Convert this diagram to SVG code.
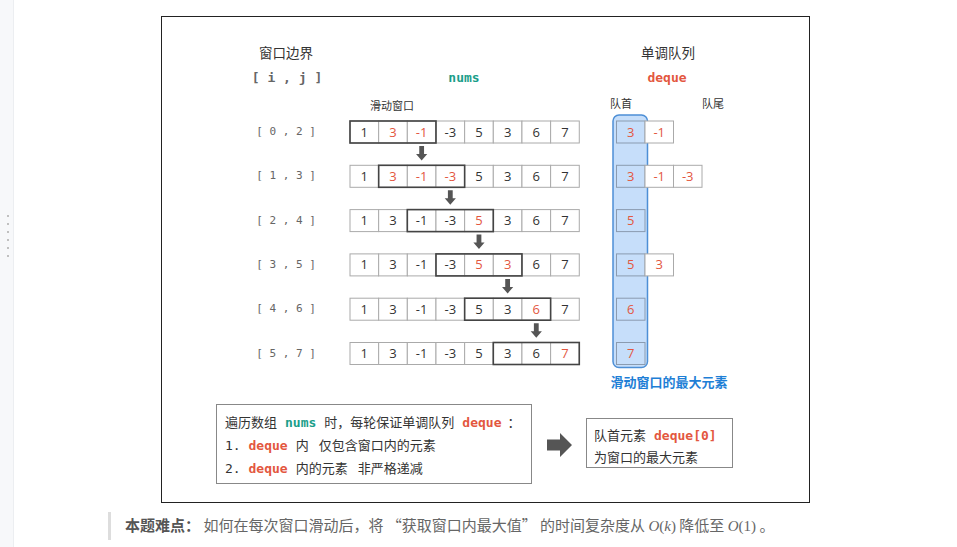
<svg xmlns="http://www.w3.org/2000/svg" width="957" height="547" viewBox="0 0 957 547">
<style>
.cjk{font-family:"Noto Sans CJK SC","Noto Sans",sans-serif;fill:#333}
.mono{font-family:"DejaVu Sans Mono","Liberation Mono",monospace}
.lbl{font-family:"DejaVu Sans Mono","Liberation Mono",monospace;font-size:11px;fill:#666;text-anchor:middle}
.cell{fill:#fff;stroke:#aaa;stroke-width:1}
.dcell{fill:#fff;stroke:#aaa;stroke-width:1}
.dfirst{fill:none;stroke:#8a9bb0;stroke-width:1}
.win{fill:none;stroke:#444;stroke-width:1.6}
.n{font-family:"Open Sans","Liberation Sans",sans-serif;font-size:13px;fill:#333;text-anchor:middle}
.r{fill:#e3573f}
.teal{fill:#1a9e8a}
.red{fill:#e3573f}
.box{fill:#fff;stroke:#888;stroke-width:1}
.arr{fill:#555}
.bt{font-size:13px}
</style>
<defs>
<path id="down" d="M-2.4,0 H2.4 V8 H5.6 L0,14.5 L-5.6,8 H-2.4 Z"/>
</defs>
<rect width="957" height="547" fill="#fff"/>
<g id="sidebar">
<rect x="0" y="0" width="13" height="547" fill="#f7f8fa"/>
<line x1="13.5" y1="0" x2="13.5" y2="547" stroke="#eceef1"/>
<rect x="7" y="215" width="2" height="2" fill="#c0c0c0"/>
<rect x="7" y="223" width="2" height="2" fill="#c0c0c0"/>
<rect x="7" y="231" width="2" height="2" fill="#c0c0c0"/>
<rect x="7" y="239" width="2" height="2" fill="#c0c0c0"/>
<rect x="7" y="247" width="2" height="2" fill="#c0c0c0"/>
<rect x="7" y="255" width="2" height="2" fill="#c0c0c0"/>
</g>
<rect id="frame" x="161.5" y="16.5" width="648" height="486" fill="#fff" stroke="#222" stroke-width="1"/>
<g id="headers">
<text class="cjk" x="286" y="58" font-size="13.5" text-anchor="middle">窗口边界</text>
<text class="mono" x="287" y="82" font-size="13" font-weight="bold" fill="#666" text-anchor="middle">[ i , j ]</text>
<text class="mono teal" x="464" y="82" font-size="13" font-weight="bold" text-anchor="middle">nums</text>
<text class="cjk" x="668" y="58" font-size="13.5" text-anchor="middle">单调队列</text>
<text class="mono red" x="667" y="82" font-size="13" font-weight="bold" text-anchor="middle">deque</text>
<text class="cjk" x="392" y="110" font-size="11" text-anchor="middle">滑动窗口</text>
<text class="cjk" x="621" y="108" font-size="11" text-anchor="middle">队首</text>
<text class="cjk" x="713" y="108" font-size="11" text-anchor="middle">队尾</text>
</g>
<g id="labels">
<text class="lbl" x="286" y="135">[ 0 , 2 ]</text>
<text class="lbl" x="286" y="179.3">[ 1 , 3 ]</text>
<text class="lbl" x="286" y="223.6">[ 2 , 4 ]</text>
<text class="lbl" x="286" y="267.9">[ 3 , 5 ]</text>
<text class="lbl" x="286" y="312.2">[ 4 , 6 ]</text>
<text class="lbl" x="286" y="356.5">[ 5 , 7 ]</text>
</g>
<g id="row0" transform="translate(0,121)">
<rect class="cell" x="350" y="0" width="28.66" height="22"/><rect class="cell" x="378.66" y="0" width="28.66" height="22"/><rect class="cell" x="407.32" y="0" width="28.66" height="22"/><rect class="cell" x="435.98" y="0" width="28.66" height="22"/><rect class="cell" x="464.64" y="0" width="28.66" height="22"/><rect class="cell" x="493.3" y="0" width="28.66" height="22"/><rect class="cell" x="521.96" y="0" width="28.66" height="22"/><rect class="cell" x="550.62" y="0" width="28.66" height="22"/>
<rect class="win" x="350" y="0" width="85.98" height="22"/>
<text class="n" x="364.33" y="15.5">1</text><text class="n r" x="392.99" y="15.5">3</text><text class="n r" x="421.65" y="15.5">-1</text><text class="n" x="450.31" y="15.5">-3</text><text class="n" x="478.97" y="15.5">5</text><text class="n" x="507.63" y="15.5">3</text><text class="n" x="536.29" y="15.5">6</text><text class="n" x="564.95" y="15.5">7</text>
</g>
<g id="row1" transform="translate(0,165.3)">
<rect class="cell" x="350" y="0" width="28.66" height="22"/><rect class="cell" x="378.66" y="0" width="28.66" height="22"/><rect class="cell" x="407.32" y="0" width="28.66" height="22"/><rect class="cell" x="435.98" y="0" width="28.66" height="22"/><rect class="cell" x="464.64" y="0" width="28.66" height="22"/><rect class="cell" x="493.3" y="0" width="28.66" height="22"/><rect class="cell" x="521.96" y="0" width="28.66" height="22"/><rect class="cell" x="550.62" y="0" width="28.66" height="22"/>
<rect class="win" x="378.66" y="0" width="85.98" height="22"/>
<text class="n" x="364.33" y="15.5">1</text><text class="n r" x="392.99" y="15.5">3</text><text class="n r" x="421.65" y="15.5">-1</text><text class="n r" x="450.31" y="15.5">-3</text><text class="n" x="478.97" y="15.5">5</text><text class="n" x="507.63" y="15.5">3</text><text class="n" x="536.29" y="15.5">6</text><text class="n" x="564.95" y="15.5">7</text>
</g>
<g id="row2" transform="translate(0,209.6)">
<rect class="cell" x="350" y="0" width="28.66" height="22"/><rect class="cell" x="378.66" y="0" width="28.66" height="22"/><rect class="cell" x="407.32" y="0" width="28.66" height="22"/><rect class="cell" x="435.98" y="0" width="28.66" height="22"/><rect class="cell" x="464.64" y="0" width="28.66" height="22"/><rect class="cell" x="493.3" y="0" width="28.66" height="22"/><rect class="cell" x="521.96" y="0" width="28.66" height="22"/><rect class="cell" x="550.62" y="0" width="28.66" height="22"/>
<rect class="win" x="407.32" y="0" width="85.98" height="22"/>
<text class="n" x="364.33" y="15.5">1</text><text class="n" x="392.99" y="15.5">3</text><text class="n" x="421.65" y="15.5">-1</text><text class="n" x="450.31" y="15.5">-3</text><text class="n r" x="478.97" y="15.5">5</text><text class="n" x="507.63" y="15.5">3</text><text class="n" x="536.29" y="15.5">6</text><text class="n" x="564.95" y="15.5">7</text>
</g>
<g id="row3" transform="translate(0,253.9)">
<rect class="cell" x="350" y="0" width="28.66" height="22"/><rect class="cell" x="378.66" y="0" width="28.66" height="22"/><rect class="cell" x="407.32" y="0" width="28.66" height="22"/><rect class="cell" x="435.98" y="0" width="28.66" height="22"/><rect class="cell" x="464.64" y="0" width="28.66" height="22"/><rect class="cell" x="493.3" y="0" width="28.66" height="22"/><rect class="cell" x="521.96" y="0" width="28.66" height="22"/><rect class="cell" x="550.62" y="0" width="28.66" height="22"/>
<rect class="win" x="435.98" y="0" width="85.98" height="22"/>
<text class="n" x="364.33" y="15.5">1</text><text class="n" x="392.99" y="15.5">3</text><text class="n" x="421.65" y="15.5">-1</text><text class="n" x="450.31" y="15.5">-3</text><text class="n r" x="478.97" y="15.5">5</text><text class="n r" x="507.63" y="15.5">3</text><text class="n" x="536.29" y="15.5">6</text><text class="n" x="564.95" y="15.5">7</text>
</g>
<g id="row4" transform="translate(0,298.2)">
<rect class="cell" x="350" y="0" width="28.66" height="22"/><rect class="cell" x="378.66" y="0" width="28.66" height="22"/><rect class="cell" x="407.32" y="0" width="28.66" height="22"/><rect class="cell" x="435.98" y="0" width="28.66" height="22"/><rect class="cell" x="464.64" y="0" width="28.66" height="22"/><rect class="cell" x="493.3" y="0" width="28.66" height="22"/><rect class="cell" x="521.96" y="0" width="28.66" height="22"/><rect class="cell" x="550.62" y="0" width="28.66" height="22"/>
<rect class="win" x="464.64" y="0" width="85.98" height="22"/>
<text class="n" x="364.33" y="15.5">1</text><text class="n" x="392.99" y="15.5">3</text><text class="n" x="421.65" y="15.5">-1</text><text class="n" x="450.31" y="15.5">-3</text><text class="n" x="478.97" y="15.5">5</text><text class="n" x="507.63" y="15.5">3</text><text class="n r" x="536.29" y="15.5">6</text><text class="n" x="564.95" y="15.5">7</text>
</g>
<g id="row5" transform="translate(0,342.5)">
<rect class="cell" x="350" y="0" width="28.66" height="22"/><rect class="cell" x="378.66" y="0" width="28.66" height="22"/><rect class="cell" x="407.32" y="0" width="28.66" height="22"/><rect class="cell" x="435.98" y="0" width="28.66" height="22"/><rect class="cell" x="464.64" y="0" width="28.66" height="22"/><rect class="cell" x="493.3" y="0" width="28.66" height="22"/><rect class="cell" x="521.96" y="0" width="28.66" height="22"/><rect class="cell" x="550.62" y="0" width="28.66" height="22"/>
<rect class="win" x="493.3" y="0" width="85.98" height="22"/>
<text class="n" x="364.33" y="15.5">1</text><text class="n" x="392.99" y="15.5">3</text><text class="n" x="421.65" y="15.5">-1</text><text class="n" x="450.31" y="15.5">-3</text><text class="n" x="478.97" y="15.5">5</text><text class="n" x="507.63" y="15.5">3</text><text class="n" x="536.29" y="15.5">6</text><text class="n r" x="564.95" y="15.5">7</text>
</g>
<g id="deque">
<rect x="613" y="115" width="34.5" height="252.5" rx="6" fill="#c6defa" stroke="#4d8fd6" stroke-width="1.5"/>
<g transform="translate(0,121)">
<rect class="dfirst" x="616.5" y="0" width="28.5" height="22"/><rect class="dcell" x="645" y="0" width="28.5" height="22"/>
<text class="n r" x="630.75" y="15.5">3</text><text class="n r" x="659.25" y="15.5">-1</text>
</g>
<g transform="translate(0,165.3)">
<rect class="dfirst" x="616.5" y="0" width="28.5" height="22"/><rect class="dcell" x="645" y="0" width="28.5" height="22"/><rect class="dcell" x="673.5" y="0" width="28.5" height="22"/>
<text class="n r" x="630.75" y="15.5">3</text><text class="n r" x="659.25" y="15.5">-1</text><text class="n r" x="687.75" y="15.5">-3</text>
</g>
<g transform="translate(0,209.6)">
<rect class="dfirst" x="616.5" y="0" width="28.5" height="22"/>
<text class="n r" x="630.75" y="15.5">5</text>
</g>
<g transform="translate(0,253.9)">
<rect class="dfirst" x="616.5" y="0" width="28.5" height="22"/><rect class="dcell" x="645" y="0" width="28.5" height="22"/>
<text class="n r" x="630.75" y="15.5">5</text><text class="n r" x="659.25" y="15.5">3</text>
</g>
<g transform="translate(0,298.2)">
<rect class="dfirst" x="616.5" y="0" width="28.5" height="22"/>
<text class="n r" x="630.75" y="15.5">6</text>
</g>
<g transform="translate(0,342.5)">
<rect class="dfirst" x="616.5" y="0" width="28.5" height="22"/>
<text class="n r" x="630.75" y="15.5">7</text>
</g>
<text x="669" y="387" font-family="Noto Sans CJK SC,sans-serif" font-size="13" font-weight="bold" fill="#1f7fd6" text-anchor="middle">滑动窗口的最大元素</text>
</g>
<g id="connectors" class="arr">
<use href="#down" x="421.65" y="146"/>
<use href="#down" x="450.31" y="190.3"/>
<use href="#down" x="478.97" y="234.6"/>
<use href="#down" x="507.63" y="278.9"/>
<use href="#down" x="536.29" y="323.2"/>
<path d="M547,439.5 H560 V433 L572,445 L560,457 V450.5 H547 Z"/>
</g>
<g id="rulebox">
<rect class="box" x="216.5" y="404.5" width="315" height="79"/>
<text class="cjk bt" x="225" y="427">遍历数组<tspan class="mono teal" font-weight="bold" dx="8">nums</tspan><tspan dx="8">时，每轮保证单调队列</tspan><tspan class="mono red" font-weight="bold" dx="8">deque</tspan><tspan dx="6">：</tspan></text>
<text class="cjk bt" x="225" y="450"><tspan class="mono" fill="#333">1. </tspan><tspan class="mono red" font-weight="bold">deque</tspan><tspan dx="8">内</tspan><tspan dx="10">仅包含窗口内的元素</tspan></text>
<text class="cjk bt" x="225" y="473"><tspan class="mono" fill="#333">2. </tspan><tspan class="mono red" font-weight="bold">deque</tspan><tspan dx="8">内的元素</tspan><tspan dx="10">非严格递减</tspan></text>
</g>
<g id="resultbox">
<rect class="box" x="586.5" y="418.5" width="146" height="49"/>
<text class="cjk bt" x="594" y="440">队首元素<tspan class="mono red" font-weight="bold" dx="8">deque[0]</tspan></text>
<text class="cjk bt" x="594" y="462">为窗口的最大元素</text>
</g>
<g id="caption">
<rect x="108" y="512" width="3" height="28" fill="#ddd"/>
<text x="125" y="531" font-family="Noto Sans CJK SC,sans-serif" font-size="15" fill="#666"><tspan font-weight="bold" fill="#555">本题难点：</tspan> 如何在每次窗口滑动后，将 “获取窗口内最大值” 的时间复杂度从 <tspan font-family="Liberation Serif,serif" font-style="italic">O</tspan><tspan font-family="Liberation Serif,serif">(</tspan><tspan font-family="Liberation Serif,serif" font-style="italic">k</tspan><tspan font-family="Liberation Serif,serif">)</tspan> 降低至 <tspan font-family="Liberation Serif,serif" font-style="italic">O</tspan><tspan font-family="Liberation Serif,serif">(1)</tspan> 。</text>
</g>
</svg>
